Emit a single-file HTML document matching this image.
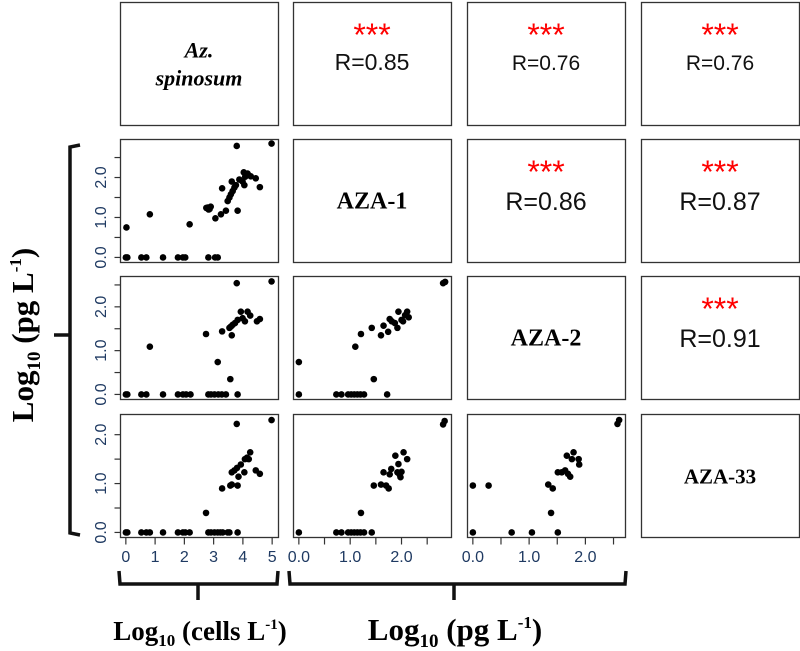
<!DOCTYPE html>
<html><head><meta charset="utf-8">
<style>
html,body{margin:0;padding:0;background:#fff;}
svg{display:block;}
</style></head>
<body>
<svg id="chart" width="800" height="651" viewBox="0 0 800 651" xmlns="http://www.w3.org/2000/svg"></svg>
<script>
// ---- data ----
const varNames = ["Az. spinosum","AZA-1","AZA-2","AZA-33"];
const varMax = [5, 2.85, 2.6, 2.33];
const rValues = [["0.85","0.76","0.76"],["0.86","0.87"],["0.91"]];
const cellsTickLabels = ["0","1","2","3","4","5"];
const pgTickLabels = ["0.0","1.0","2.0"];

const p21x = [0,0.05,0.53,0.70,1.27,1.78,1.95,2.03,2.82,3.05,3.14,0.02,0.82,2.18,2.75,2.8,2.86,2.9,2.83,3.06,3.25,3.42,3.29,3.48,3.54,3.59,3.65,3.71,3.62,3.76,3.82,3.79,3.88,3.99,4.05,4.08,4.03,4.16,4.27,4.44,4.58,4.98];
const p21y = [0,0,0,0,0,0,0,0,0,0,0,0.75,1.08,0.83,1.24,1.25,1.21,1.27,1.2,0.98,1.08,1.17,1.73,1.41,1.50,1.58,1.66,1.75,1.90,1.81,1.17,2.79,1.95,1.90,1.81,2.02,2.13,2.10,2.03,1.98,1.76,2.85];
const p31x = [0,0.05,0.53,0.70,1.27,1.78,1.95,2.06,2.21,2.82,2.91,3.03,3.16,3.28,3.42,3.82,0.82,2.74,3.14,3.57,3.29,3.54,3.59,3.65,3.62,3.73,3.82,3.93,3.99,4.07,4.16,4.25,4.48,4.58,3.79,4.98];
const p31y = [0,0,0,0,0,0,0,0,0,0,0,0,0,0,0,0,1.09,1.38,0.74,0.35,1.44,1.52,1.55,1.59,1.35,1.63,1.70,1.89,1.74,1.67,1.89,1.80,1.67,1.72,2.54,2.58];
const p41x = [0,0.05,0.53,0.70,0.82,1.27,1.78,1.95,2.03,2.18,2.82,2.91,3.03,3.14,3.23,3.31,3.48,3.54,3.82,2.74,3.29,3.57,3.62,3.82,3.85,3.62,3.71,3.80,3.93,4.05,4.07,4.14,4.2,4.25,4.44,4.58,3.79,4.98];
const p41y = [0,0,0,0,0,0,0,0,0,0,0,0,0,0,0,0,0,0,0,0.40,0.90,0.96,0.98,0.96,1.14,1.23,1.27,1.32,1.39,1.23,1.50,1.53,1.50,1.64,1.27,1.20,2.22,2.30];
const p32x = [0,0,0.73,0.83,0.96,1.02,1.08,1.14,1.2,1.27,1.46,1.72,1.1,1.21,1.42,1.6,1.65,1.74,1.77,1.81,1.87,1.92,1.94,2.0,2.03,2.07,2.11,2.14,2.81,2.85];
const p32y = [0,0.74,0,0,0,0,0,0,0,0,0.35,0,1.09,1.38,1.52,1.35,1.57,1.43,1.72,1.67,1.63,1.52,1.89,1.70,1.67,1.81,1.89,1.76,2.54,2.57];
const p42x = [0,0.73,0.83,0.96,1.02,1.08,1.14,1.2,1.27,1.42,1.21,1.46,1.6,1.70,1.75,1.65,1.77,1.8,1.88,1.94,1.92,1.96,1.98,2.0,2.04,2.11,2.81,2.84];
const p42y = [0,0,0,0,0,0,0,0,0,0,0.40,0.96,0.98,0.96,0.90,1.23,1.19,1.30,1.57,1.40,1.23,1.19,1.13,1.24,1.64,1.50,2.21,2.28];
const p43x = [0,0,0.28,0.69,1.05,1.51,1.39,1.34,1.42,1.51,1.58,1.64,1.69,1.73,1.67,1.76,1.79,1.88,1.89,2.57,2.60];
const p43y = [0,0.96,0.96,0,0,0,0.40,0.98,0.90,1.23,1.23,1.27,1.20,1.14,1.57,1.50,1.64,1.50,1.39,2.22,2.30];

const scatterPanels = [
  {row:1,col:0,x:p21x,y:p21y},{row:2,col:0,x:p31x,y:p31y},{row:3,col:0,x:p41x,y:p41y},
  {row:2,col:1,x:p32x,y:p32y},{row:3,col:1,x:p42x,y:p42y},{row:3,col:2,x:p43x,y:p43y}
];

const NS="http://www.w3.org/2000/svg";
const svg=document.getElementById('chart');
const colL=[120,293,467,641], rowT=[2,139,276,414], PW=158, PH=123;
function mk(tag,attrs,parent){const e=document.createElementNS(NS,tag);for(const k in attrs)e.setAttribute(k,attrs[k]);(parent||svg).appendChild(e);return e;}
function xScale(c,v){const m=varMax[c],span=m*1.08;return colL[c]+(v+0.04*m)/span*PW;}
function yScale(r,v){const m=varMax[r],span=m*1.08;return rowT[r]+PH-(v+0.04*m)/span*PH;}
const tickColor="#1f3a62";

for(let r=0;r<4;r++)for(let c=0;c<4;c++){
  const b=mk('rect',{x:colL[c]+0.5,y:rowT[r]+0.5,width:PW,height:PH,fill:'none',stroke:'#333','stroke-width':1.3});
  
  
}
const diagFont=[22,24,24,21];
varNames.forEach((n,i)=>{
  const cx=colL[i]+PW/2, cy=rowT[i]+PH/2;
  if(i===0){
    const t=mk('text',{x:cx,y:cy-6,'text-anchor':'middle','font-family':'Liberation Serif, serif','font-weight':'bold','font-style':'italic','font-size':22});
    t.textContent="Az.";
    
    
    const t2=mk('text',{x:cx,y:cy+22,'text-anchor':'middle','font-family':'Liberation Serif, serif','font-weight':'bold','font-style':'italic','font-size':22});
    t2.textContent="spinosum";
    
    
  } else {
    const t=mk('text',{x:cx,y:cy+8,'text-anchor':'middle','font-family':'Liberation Serif, serif','font-weight':'bold','font-size':diagFont[i]});
    t.textContent=n;
    
    
  }
});
rValues.forEach((arr,r)=>{arr.forEach((val,k)=>{
  const c=r+1+k, cx=colL[c]+PW/2;
  const fs=(r===0&&c>1)?21:(r===0?23:25);
  const s=mk('text',{x:cx,y:rowT[r]+44,'text-anchor':'middle','font-family':'Liberation Sans, sans-serif','font-size':32,fill:'#ff0000'});
  s.textContent="***";
  
  
  const t=mk('text',{x:cx,y:rowT[r]+(r===0?68:71),'text-anchor':'middle','font-family':'Liberation Sans, sans-serif','font-size':fs,fill:'#111'});
  t.textContent="R="+val;
  
  
});});

scatterPanels.forEach(p=>{
  const g=mk('g',{});
  
  
  p.x.forEach((xv,i)=>{
    const d=mk('circle',{cx:xScale(p.col,xv),cy:yScale(p.row,p.y[i]),r:3.3,fill:'#000'},g);
    
    
  });
});

for(let r=1;r<4;r++){
  const x0=colL[0]+0.5;
  for(let v=0;v<=varMax[r]+1e-9;v+=0.5){
    const y=yScale(r,v);
    const tk=mk('line',{x1:x0-6,y1:y,x2:x0,y2:y,stroke:'#333','stroke-width':1.2});
    
    
  }
  pgTickLabels.forEach((lab,i)=>{
    const y=yScale(r,i);
    const t=mk('text',{x:0,y:0,transform:`translate(106,${y}) rotate(-90)`,'text-anchor':'middle','font-family':'Liberation Sans, sans-serif','font-size':16,fill:tickColor});
    t.textContent=lab;
    
    
  });
}
for(let c=0;c<3;c++){
  const y0=rowT[3]+PH+0.5;
  const step=c===0?1:0.5;
  for(let v=0;v<=varMax[c]+1e-9;v+=step){
    const x=xScale(c,v);
    const tk=mk('line',{x1:x,y1:y0,x2:x,y2:y0+7,stroke:'#333','stroke-width':1.2});
    
    
  }
  const labs=c===0?cellsTickLabels:pgTickLabels;
  labs.forEach((lab,i)=>{
    const t=mk('text',{x:xScale(c,i),y:562,'text-anchor':'middle','font-family':'Liberation Sans, sans-serif','font-size':16,fill:tickColor});
    t.textContent=lab;
    
    
  });
}
const br=mk('path',{d:'M80,145 L70,147 L70,533 L80,535 M70,335 L54,335',fill:'none',stroke:'#111','stroke-width':3.5});


const b1=mk('path',{d:'M119,571 L120,584 L277,584 L278,571 M198,584 L198,600',fill:'none',stroke:'#111','stroke-width':3.5});


const b2=mk('path',{d:'M289,571 L290,584 L625,584 L626,571 M454,584 L454,600',fill:'none',stroke:'#111','stroke-width':3.5});


</script>
<svg width="800" height="651" style="position:absolute;left:0;top:0">
  <text x="200" y="640" text-anchor="middle" font-family="Liberation Serif, serif" font-weight="bold" font-size="27">Log<tspan font-size="17" dy="6">10</tspan><tspan dy="-6"> (cells L</tspan><tspan font-size="15" dy="-11">-1</tspan><tspan dy="11">)</tspan></text>
  <text x="455" y="640" text-anchor="middle" font-family="Liberation Serif, serif" font-weight="bold" font-size="31">Log<tspan font-size="19" dy="7">10</tspan><tspan dy="-7"> (pg L</tspan><tspan font-size="17" dy="-12">-1</tspan><tspan dy="12">)</tspan></text>
  <text transform="translate(33,335) rotate(-90)" text-anchor="middle" font-family="Liberation Serif, serif" font-weight="bold" font-size="31">Log<tspan font-size="19" dy="7">10</tspan><tspan dy="-7"> (pg L</tspan><tspan font-size="17" dy="-12">-1</tspan><tspan dy="12">)</tspan></text>
</svg>
</body></html>
